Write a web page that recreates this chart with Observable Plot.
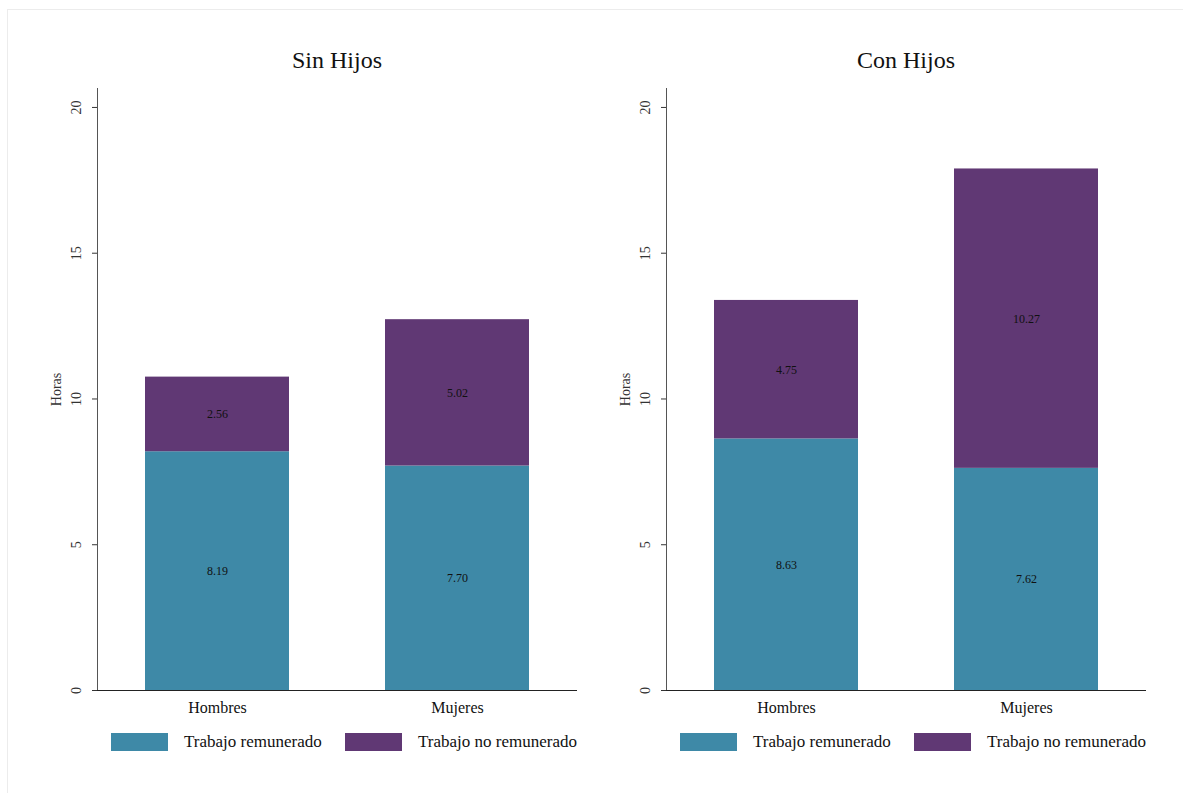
<!DOCTYPE html>
<html>
<head>
<meta charset="utf-8">
<script src="https://cdn.jsdelivr.net/npm/d3@7"></script>
<script src="https://cdn.jsdelivr.net/npm/@observablehq/plot@0.6"></script>
<style>
  body { margin: 0; background: #fff; font-family: 'Liberation Serif', 'DejaVu Serif', serif; }
  #page { position: relative; width: 1183px; height: 793px; overflow: hidden; }
  #border { position: absolute; left: 7px; top: 9px; width: 1190px; height: 800px; border: 1px solid #ececec; }
  .panel { position: absolute; top: 0; width: 590px; height: 793px; }
  .title { position: absolute; top: 47px; left: 97px; width: 480px; text-align: center; font-size: 24px; color: #111; }
  .legend { position: absolute; top: 733px; left: 0; width: 590px; height: 20px; font-size: 17px; color: #111; }
  .sw { position: absolute; top: 0; width: 57px; height: 18px; }
  .lt { position: absolute; top: 0; line-height: 18px; white-space: nowrap; }
</style>
</head>
<body>
<div id="page"><div id="border"></div></div>
<script>
const categories = ["Hombres", "Mujeres"];
const seriesNames = ["Trabajo remunerado", "Trabajo no remunerado"];
const seriesColors = ["#3e89a7", "#603874"];
const panelTitles = ["Sin Hijos", "Con Hijos"];
const sinHijosRemunerado = [8.19, 7.70];
const sinHijosNoRemunerado = [2.56, 5.02];
const conHijosRemunerado = [8.63, 7.62];
const conHijosNoRemunerado = [4.75, 10.27];
const yTicks = [0, 5, 10, 15, 20];

function rowsFor(rem, noRem) {
  const rows = [];
  categories.forEach((c, i) => {
    rows.push({cat: c, serie: seriesNames[0], value: rem[i]});
    rows.push({cat: c, serie: seriesNames[1], value: noRem[i]});
  });
  return rows;
}

const panels = [
  {title: panelTitles[0], rows: rowsFor(sinHijosRemunerado, sinHijosNoRemunerado), left: 0},
  {title: panelTitles[1], rows: rowsFor(conHijosRemunerado, conHijosNoRemunerado), left: 569}
];

const page = document.getElementById("page");

for (const p of panels) {
  const panel = document.createElement("div");
  panel.className = "panel";
  panel.style.left = p.left + "px";
  const t = document.createElement("div");
  t.className = "title";
  t.textContent = p.title;
  panel.appendChild(t);

  const chart = Plot.plot({
    width: 590,
    height: 640,
    marginLeft: 97,
    marginRight: 13,
    marginTop: 8,
    marginBottom: 30,
    style: {fontFamily: "'Liberation Serif', 'DejaVu Serif', serif", fontSize: "14px", color: "#222", background: "transparent"},
    x: {domain: categories, paddingInner: 0.4, paddingOuter: 0.196, label: null},
    y: {domain: [0, 20.65], label: null},
    color: {domain: seriesNames, range: seriesColors},
    marks: [
      Plot.barY(p.rows, {x: "cat", y: "value", fill: "serie"}),
      Plot.text(p.rows, Plot.stackY({x: "cat", y: "value", text: d => d.value.toFixed(2), fill: "#111", fontSize: 12})),
      Plot.axisX({tickSize: 0, tickPadding: 11, fontSize: 16, label: null, color: "#111"}),
      Plot.axisY({ticks: yTicks, tickSize: 5, tickPadding: 12, tickRotate: -90, fontSize: 14, label: "Horas", labelAnchor: "center", labelArrow: "none", labelOffset: 46, color: "#333"}),
      Plot.frame({anchor: "left", stroke: "#555"}),
      Plot.ruleY([0], {stroke: "#222"})
    ]
  });
  chart.style.position = "absolute";
  chart.style.top = "80px";
  chart.style.left = "0px";
  panel.appendChild(chart);

  const leg = document.createElement("div");
  leg.className = "legend";
  const pos = [[111, 184], [345, 418]];
  seriesNames.forEach((s, i) => {
    const sw = document.createElement("div");
    sw.className = "sw";
    sw.style.left = pos[i][0] + "px";
    sw.style.background = seriesColors[i];
    leg.appendChild(sw);
    const lt = document.createElement("div");
    lt.className = "lt";
    lt.style.left = pos[i][1] + "px";
    lt.textContent = s;
    leg.appendChild(lt);
  });
  panel.appendChild(leg);
  page.appendChild(panel);
}
</script>
</body>
</html>
